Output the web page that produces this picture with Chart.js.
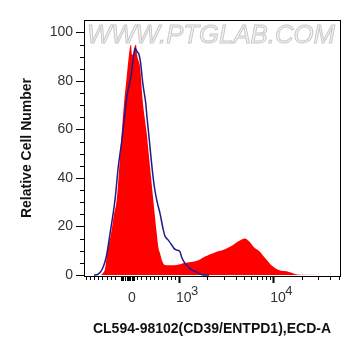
<!DOCTYPE html>
<html>
<head>
<meta charset="utf-8">
<script src="https://cdn.jsdelivr.net/npm/chart.js@4"></script>
<style>
  html, body { margin: 0; padding: 0; background: #fff; }
  #wrap { width: 361px; height: 356px; position: relative; }
</style>
</head>
<body>
<div id="wrap"><canvas id="chart"></canvas></div>
<script>
// x = display channel on the biexponential axis (0..256), y = relative cell number (% of max)
var redX = [0, 17, 19, 21, 23.5, 27, 30, 32.7, 35.3, 37.7, 40.3, 42, 43.7, 45, 46, 47, 48, 49.3, 50.5, 52,
            53, 54, 56, 58.7, 62.7, 66, 69.3, 72.7, 74.5, 76, 78, 81, 85, 90, 95, 99, 105, 109, 115, 121,
            125, 129, 134, 139, 144, 149, 154, 157.7, 161, 163, 166, 170, 176, 180, 184.3, 188, 192.7, 197, 202.7, 207,
            211, 216, 256];
var redY = [0, 0, 0.8, 2.5, 10, 17, 25, 31, 44.7, 58.5, 72, 79, 86, 91, 94, 95, 91, 91, 94, 95,
            91, 89, 86, 72, 58.5, 44.7, 31, 17.3, 11, 9, 6, 4.1, 4, 4, 4.3, 4.9, 5.3, 5.5, 6.2, 7.6,
            8.4, 9, 9.8, 10.3, 11.3, 12.4, 13.8, 14.7, 15.1, 14.7, 13.5, 11.5, 9.6, 7.5, 5.5, 3.8, 2.5, 1.8, 1.6, 1,
            0.4, 0.1, 0];

// isotype control
var blueX = [10, 12, 16, 19.3, 22.5, 26, 31, 34.3, 38, 41, 43, 45, 47, 48.3, 50, 51, 52, 53.3, 55, 56.7,
             58, 59.3, 61.7, 63, 65, 68.3, 70.5, 72.7, 76, 79.3, 81, 82.7, 85, 87.7, 90, 92.7, 95, 96, 98, 101,
             104.3, 107.7, 112.7, 119.3, 125];
var blueY = [0, 0, 1, 3.4, 8, 17, 31, 44.7, 56, 67, 74, 78, 82, 86, 91.4, 93.5, 93, 92, 91, 87.3,
             82, 77.6, 71, 65, 57, 43.3, 36, 31, 25.4, 18.6, 16, 15.1, 14, 12.4, 11, 10.3, 10, 9.6, 7, 4.8,
             3.4, 2.1, 1.2, 0, 0];

// axis ticks
var xMajorTicks = [48, 95, 189.3];
var xTickBase = ['0', '10', '10'];
var xTickExp = ['', '3', '4'];
var xMinorTicks = [1.7, 6, 10, 14.3, 18.3, 22.7, 26.7, 31,
                   53.3, 57.3, 61.7, 65.7, 70, 74, 78.3, 82.7, 86.7, 90.7,
                   123.3, 140, 151.7, 160, 166.7, 172.7, 177.7, 182, 186,
                   218.3, 234.3, 246, 255];
var xZeroCluster = [37, 38, 39, 41, 42.5, 44, 45, 46, 47.5, 49, 50];
var yMajorTicks = [0, 20, 40, 60, 80, 100];
var yMinorTicks = [5, 10, 15, 25, 30, 35, 45, 50, 55, 65, 70, 75, 85, 90, 95];

var FONT = '"Liberation Sans", Arial, sans-serif';

function toPoints(xs, ys) {
    var pts = [];
    for (var i = 0; i < xs.length; i++) pts.push({x: xs[i], y: ys[i]});
    return pts;
}

// frame, minor ticks, x labels with exponents, watermark
var extras = {
    id: 'extras',
    beforeDatasetsDraw: function(chart) {
        var ctx = chart.ctx;
        ctx.save();
        ctx.font = 'italic 26px ' + FONT;
        var txt = 'WWW.PTGLAB.COM';
        var w = ctx.measureText(txt).width;
        ctx.translate(87, 43);
        ctx.scale(248 / w, 1);
        ctx.fillStyle = '#f4f4f4';
        ctx.strokeStyle = '#c9c9c9';
        ctx.lineWidth = 1;
        ctx.fillText(txt, 0, 0);
        ctx.strokeText(txt, 0, 0);
        ctx.restore();
    },
    afterDraw: function(chart) {
        var ctx = chart.ctx, a = chart.chartArea;
        var xs = chart.scales.x, ys = chart.scales.y;
        ctx.save();
        ctx.strokeStyle = '#000';
        ctx.lineWidth = 1;
        ctx.strokeRect(a.left + 0.5, a.top + 0.5, a.right - a.left, a.bottom - a.top);

        ctx.beginPath();
        yMinorTicks.forEach(function(v) {
            var y = Math.round(ys.getPixelForValue(v)) + 0.5;
            ctx.moveTo(a.left - 4, y);
            ctx.lineTo(a.left, y);
        });
        xMinorTicks.forEach(function(v) {
            var x = Math.round(xs.getPixelForValue(v)) + 0.5;
            ctx.moveTo(x, a.bottom);
            ctx.lineTo(x, a.bottom + 4);
        });
        xZeroCluster.forEach(function(v) {
            var x = Math.round(xs.getPixelForValue(v)) + 0.5;
            ctx.moveTo(x, a.bottom);
            ctx.lineTo(x, a.bottom + 5);
        });
        ctx.stroke();

        ctx.fillStyle = '#333';
        ctx.textBaseline = 'alphabetic';
        xMajorTicks.forEach(function(v, i) {
            var x = xs.getPixelForValue(v);
            ctx.font = '14px ' + FONT;
            if (!xTickExp[i]) {
                ctx.textAlign = 'center';
                ctx.fillText(xTickBase[i], x, 302);
            } else {
                ctx.textAlign = 'left';
                ctx.fillText(xTickBase[i], x - 3, 302);
                ctx.font = '13px ' + FONT;
                ctx.fillText(xTickExp[i], x + 12, 295);
            }
        });
        ctx.restore();
    }
};

var data = {
    datasets: [
        {
            label: 'Isotype control',
            data: toPoints(blueX, blueY),
            borderColor: '#231a8a',
            borderWidth: 1.5,
            pointRadius: 0,
            fill: false,
            cubicInterpolationMode: 'monotone'
        },
        {
            label: 'CL594-98102',
            data: toPoints(redX, redY),
            borderColor: '#ff0000',
            borderWidth: 0,
            backgroundColor: '#ff0000',
            pointRadius: 0,
            fill: 'origin',
            cubicInterpolationMode: 'monotone'
        }
    ]
};

var options = {
    responsive: true,
    maintainAspectRatio: false,
    animation: false,
    layout: { padding: { top: 20, right: 21, left: 0, bottom: 0 } },
    plugins: {
        legend: { display: false },
        tooltip: { enabled: false }
    },
    scales: {
        x: {
            type: 'linear',
            min: 0,
            max: 256,
            afterFit: function(s) { s.height = 80; },
            afterBuildTicks: function(s) {
                s.ticks = xMajorTicks.map(function(v) { return {value: v}; });
            },
            grid: {
                drawOnChartArea: false,
                tickLength: 7,
                tickWidth: 2,
                tickColor: function(c) {
                    return c.tick && c.tick.value === 48 ? 'rgba(0,0,0,0)' : '#000';
                }
            },
            border: { color: '#000', width: 1 },
            ticks: { display: false },
            title: {
                display: true,
                text: 'CL594-98102(CD39/ENTPD1),ECD-A',
                color: '#111',
                font: { family: FONT, size: 14, weight: 'bold' },
                padding: { top: 0, bottom: 18 }
            }
        },
        y: {
            min: -0.4,
            max: 105.2,
            afterFit: function(s) { s.width = 84; },
            afterBuildTicks: function(s) {
                s.ticks = yMajorTicks.map(function(v) { return {value: v}; });
            },
            grid: { drawOnChartArea: false, tickLength: 8, tickColor: '#000' },
            border: { color: '#000', width: 1 },
            ticks: {
                padding: 3,
                color: '#333',
                font: { family: FONT, size: 14 }
            },
            title: {
                display: true,
                text: 'Relative Cell Number',
                color: '#111',
                font: { family: FONT, size: 14, weight: 'bold' },
                padding: { top: 19, bottom: 0 }
            }
        }
    }
};

var chart = new Chart(document.getElementById('chart'), {
    type: 'line',
    data: data,
    options: options,
    plugins: [extras]
});
</script>
</body>
</html>
